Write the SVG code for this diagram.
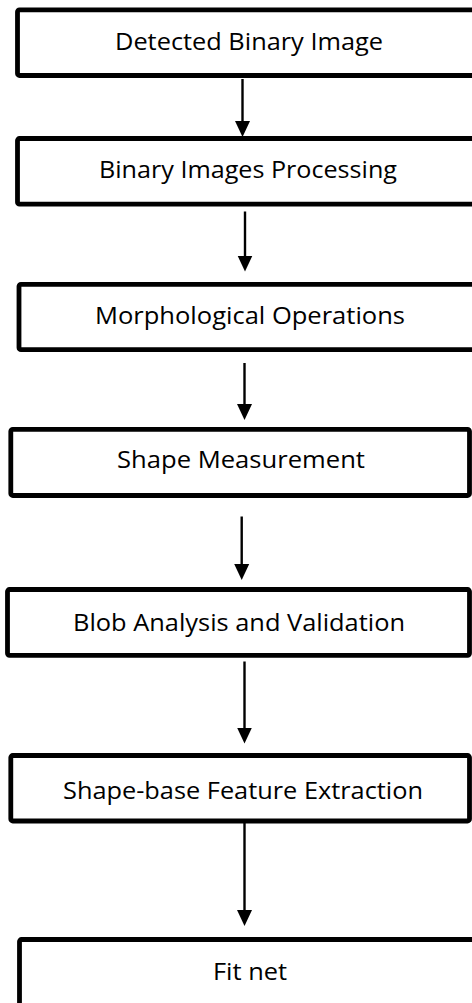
<svg xmlns="http://www.w3.org/2000/svg" width="472" height="1003" viewBox="0 0 472 1003">
  <style>
    .box { fill: #ffffff; stroke: #000000; stroke-width: 4.8; stroke-linejoin: round; }
    .label { font-family: "Open Sans", "Noto Sans", "Liberation Sans", sans-serif; font-size: 24.5px; fill: #000000; text-anchor: middle; }
    .link { stroke: #000000; stroke-width: 2.4; fill: none; marker-end: url(#arrow); }
  </style>
  <defs>
    <marker id="arrow" markerUnits="userSpaceOnUse" markerWidth="16" markerHeight="16" viewBox="0 0 16 16" refX="11" refY="8" orient="auto">
      <path d="M0,0.5 L16,8 L0,15.5 z" fill="#000000"/>
    </marker>
  </defs>
  <rect width="472" height="1003" fill="#ffffff"/>

  <!-- connectors -->
  <g id="connectors">
    <line class="link" x1="242.5" y1="79" x2="242.5" y2="132"/>
    <line class="link" x1="245" y1="211.5" x2="245" y2="266.5"/>
    <line class="link" x1="244.5" y1="363" x2="244.5" y2="415"/>
    <line class="link" x1="241.7" y1="516.5" x2="241.7" y2="575"/>
    <line class="link" x1="244.5" y1="661.5" x2="244.5" y2="738.5"/>
    <line class="link" x1="244.5" y1="823" x2="244.5" y2="921"/>
  </g>

  <!-- process steps -->
  <g id="node-detected">
    <rect class="box" x="17.5" y="9.8" width="470" height="65.7" rx="2"/>
    <text class="label" x="249" y="50" textLength="268" lengthAdjust="spacingAndGlyphs">Detected Binary Image</text>
  </g>
  <g id="node-binary-processing">
    <rect class="box" x="17.5" y="138.5" width="470" height="65.7" rx="2"/>
    <text class="label" x="248" y="178.3" textLength="298" lengthAdjust="spacingAndGlyphs">Binary Images Processing</text>
  </g>
  <g id="node-morphological">
    <rect class="box" x="19" y="284.3" width="470" height="65.4" rx="2"/>
    <text class="label" x="250" y="324" textLength="310" lengthAdjust="spacingAndGlyphs">Morphological Operations</text>
  </g>
  <g id="node-shape-measurement">
    <rect class="box" x="10.8" y="429.3" width="458.7" height="66.2" rx="2"/>
    <text class="label" x="241" y="468.3" textLength="248" lengthAdjust="spacingAndGlyphs">Shape Measurement</text>
  </g>
  <g id="node-blob-analysis">
    <rect class="box" x="7.5" y="589.5" width="462" height="65.8" rx="2"/>
    <text class="label" x="239" y="630.7" textLength="332" lengthAdjust="spacingAndGlyphs">Blob Analysis and Validation</text>
  </g>
  <g id="node-feature-extraction">
    <rect class="box" x="10.8" y="755.5" width="458.7" height="65.5" rx="2"/>
    <text class="label" x="243" y="799" textLength="360" lengthAdjust="spacingAndGlyphs">Shape-base Feature Extraction</text>
  </g>
  <g id="node-fit-net">
    <rect class="box" x="19.5" y="939.5" width="470" height="80" rx="2"/>
    <text class="label" x="250" y="980" textLength="74" lengthAdjust="spacingAndGlyphs">Fit net</text>
  </g>
</svg>
